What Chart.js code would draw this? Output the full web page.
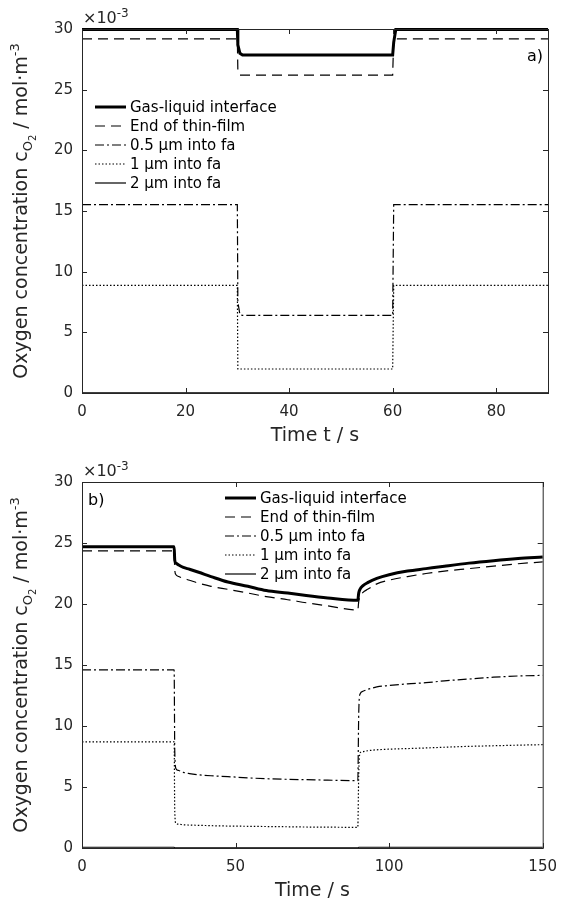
<!DOCTYPE html>
<html>
<head>
<meta charset="utf-8">
<script src="https://cdn.jsdelivr.net/npm/chart.js@4.4.1/dist/chart.umd.min.js"></script>
<style>
  body { margin: 0; background: #fff; }
  .panel { width: 567px; height: 451px; position: relative; }
  canvas { display: block; }
</style>
</head>
<body>
<div class="panel"><canvas id="chartA" width="567" height="451"></canvas></div>
<div class="panel"><canvas id="chartB" width="567" height="451"></canvas></div>
<script>
// values in units of 1e-3 mol/m3
const seriesNames = ['Gas-liquid interface', 'End of thin-film', '0.5 µm into fa', '1 µm into fa', '2 µm into fa'];

// panel a)
const timeA = [0, 30, 30.1, 30.5, 31, 60, 60.2, 60.6, 90];
const gasA  = [29.95, 29.95, 28.7, 28.0, 27.85, 27.85, 28.9, 29.95, 29.95];
const filmA = [29.18, 29.18, 26.6, 26.2, 26.2, 26.2, 29.18, 29.18, 29.18];
const halfA = [15.52, 15.52, 7.5, 6.45, 6.4, 6.4, 15.52, 15.52, 15.52];
const oneA  = [8.87, 8.87, 1.98, 1.98, 1.98, 1.98, 8.87, 8.87, 8.87];
const twoA  = [0.02, 0.02, 0.01, 0.01, 0.01, 0.01, 0.02, 0.02, 0.02];

// panel b)
const timeB = [0, 30, 30.2, 30.6, 31.5, 33, 35, 38, 42, 47.5, 54, 60, 67, 73, 80, 89.8,
               90.1, 90.5, 91.5, 93, 96, 100, 106, 112, 118, 126, 134, 142, 150];
const gasB  = [24.7, 24.7, 23.6, 23.35, 23.2, 23.0, 22.85, 22.6, 22.25, 21.8, 21.45, 21.1, 20.9, 20.7, 20.5, 20.3,
               20.9, 21.2, 21.5, 21.75, 22.1, 22.4, 22.7, 22.9, 23.1, 23.35, 23.55, 23.72, 23.85];
const filmB = [24.35, 24.35, 22.8, 22.4, 22.25, 22.1, 21.95, 21.7, 21.45, 21.2, 20.9, 20.6, 20.35, 20.1, 19.85, 19.5,
               20.2, 20.6, 20.95, 21.2, 21.65, 21.95, 22.25, 22.5, 22.7, 22.9, 23.1, 23.3, 23.45];
const halfB = [14.6, 14.6, 8.0, 6.5, 6.35, 6.2, 6.1, 6.0, 5.92, 5.85, 5.75, 5.68, 5.63, 5.6, 5.56, 5.52,
               11.0, 12.6, 12.85, 13.0, 13.2, 13.32, 13.45, 13.55, 13.7, 13.85, 14.0, 14.1, 14.15];
const oneB  = [8.7, 8.7, 3.0, 2.0, 1.95, 1.9, 1.88, 1.86, 1.83, 1.8, 1.78, 1.76, 1.74, 1.72, 1.71, 1.69,
               6.0, 7.8, 7.9, 7.97, 8.05, 8.1, 8.15, 8.2, 8.26, 8.33, 8.38, 8.43, 8.47];
const twoB  = [0.06, 0.06, 0.01, 0.01, 0.01, 0.01, 0.01, 0.01, 0.01, 0.01, 0.01, 0.01, 0.01, 0.01, 0.01, 0.01,
               0.06, 0.06, 0.06, 0.06, 0.06, 0.06, 0.06, 0.06, 0.06, 0.06, 0.06, 0.06, 0.06];

const FONT = '"DejaVu Sans", sans-serif';
const AXIS = '#262626';
const styles = [
  { borderWidth: 3, borderDash: [] },
  { borderWidth: 1.2, borderDash: [10, 6] },
  { borderWidth: 1.2, borderDash: [9, 3, 2, 3] },
  { borderWidth: 1.2, borderDash: [1.5, 2] },
  { borderWidth: 1.2, borderDash: [] }
];

function makeDatasets(times, lists, smooth) {
  return lists.map((vals, i) => ({
    label: seriesNames[i],
    data: vals.map((v, k) => ({ x: times[k], y: v })),
    borderColor: '#000',
    borderWidth: styles[i].borderWidth,
    borderDash: styles[i].borderDash,
    pointRadius: 0,
    fill: false,
    clip: 6,
    cubicInterpolationMode: smooth ? 'monotone' : 'default',
    tension: 0
  }));
}

function drawRich(ctx, parts, x, y, align) {
  let w = 0;
  parts.forEach(p => { ctx.font = p[1] + 'px ' + FONT; w += ctx.measureText(p[0]).width; });
  let cx = align === 'center' ? x - w / 2 : x;
  ctx.textAlign = 'left';
  parts.forEach(p => {
    ctx.font = p[1] + 'px ' + FONT;
    ctx.fillText(p[0], cx, y + p[2]);
    cx += ctx.measureText(p[0]).width;
  });
}

function decor(opts) {
  return {
    id: 'decor',
    afterDraw(chart) {
      const ctx = chart.ctx;
      const a = chart.chartArea;
      const xs = chart.scales.x, ys = chart.scales.y;
      ctx.save();
      // box and inward ticks
      ctx.strokeStyle = AXIS;
      ctx.lineWidth = 1;
      ctx.setLineDash([]);
      ctx.strokeRect(a.left + 0.5, a.top + 0.5, a.right - a.left, a.bottom - a.top);
      ctx.beginPath();
      xs.ticks.forEach(t => {
        const px = Math.round(xs.getPixelForValue(t.value)) + 0.5;
        ctx.moveTo(px, a.bottom); ctx.lineTo(px, a.bottom - 5);
        ctx.moveTo(px, a.top); ctx.lineTo(px, a.top + 5);
      });
      ys.ticks.forEach(t => {
        const py = Math.round(ys.getPixelForValue(t.value)) + 0.5;
        ctx.moveTo(a.left, py); ctx.lineTo(a.left + 5, py);
        ctx.moveTo(a.right, py); ctx.lineTo(a.right - 5, py);
      });
      ctx.stroke();

      ctx.fillStyle = AXIS;
      ctx.textBaseline = 'alphabetic';
      // x title
      ctx.font = '19px ' + FONT;
      ctx.textAlign = 'center';
      ctx.fillText(opts.xTitle, (a.left + a.right) / 2, a.bottom + 48);
      // y title
      ctx.save();
      ctx.translate(27, (a.top + a.bottom) / 2);
      ctx.rotate(-Math.PI / 2);
      drawRich(ctx, [['Oxygen concentration c', 19, 0], ['O', 13, 5], ['2', 10, 9], [' / mol·m', 19, 0], ['-3', 13, -8]], 0, 0, 'center');
      ctx.restore();
      // multiplier
      drawRich(ctx, [['×10', 16, 0], ['-3', 12, -6]], a.left + 1, a.top - 6, 'left');
      // panel label
      ctx.font = '16px ' + FONT;
      ctx.fillStyle = '#000';
      if (opts.tagRight) {
        ctx.textAlign = 'right';
        ctx.fillText(opts.tag, a.right - 5, a.top + 32);
      } else {
        ctx.textAlign = 'left';
        ctx.fillText(opts.tag, a.left + 6, a.top + 23);
      }
      // legend
      ctx.font = '15px ' + FONT;
      ctx.textAlign = 'left';
      ctx.textBaseline = 'middle';
      chart.data.datasets.forEach((ds, i) => {
        const y = opts.legY + i * 19;
        ctx.beginPath();
        ctx.lineWidth = ds.borderWidth;
        ctx.setLineDash(ds.borderDash);
        ctx.strokeStyle = '#000';
        ctx.moveTo(opts.legX, y); ctx.lineTo(opts.legX + 31, y);
        ctx.stroke();
        ctx.setLineDash([]);
        ctx.fillStyle = '#000';
        ctx.fillText(ds.label, opts.legX + 35, y + 1);
      });
      ctx.restore();
    }
  };
}

function makeChart(id, times, lists, xMax, xStep, pad, xHeight, smooth, opts) {
  return new Chart(document.getElementById(id), {
    type: 'line',
    data: { datasets: makeDatasets(times, lists, smooth) },
    options: {
      responsive: false,
      animation: false,
      devicePixelRatio: 1,
      layout: { padding: pad },
      plugins: { legend: { display: false }, tooltip: { enabled: false } },
      scales: {
        x: {
          type: 'linear', min: 0, max: xMax,
          ticks: { stepSize: xStep, color: AXIS, font: { family: FONT, size: 15 }, padding: 10, maxRotation: 0 },
          grid: { display: false, drawTicks: false },
          border: { display: false },
          afterBuildTicks: s => { s.ticks = s.ticks.filter(t => t.value % xStep === 0); },
          afterFit: s => { s.height = xHeight; }
        },
        y: {
          min: 0, max: 30,
          ticks: { stepSize: 5, color: AXIS, font: { family: FONT, size: 15 }, padding: 9 },
          grid: { display: false, drawTicks: false },
          border: { display: false },
          afterFit: s => { s.width = 82; }
        }
      }
    },
    plugins: [decor(opts)]
  });
}

makeChart('chartA', timeA, [gasA, filmA, halfA, oneA, twoA], 90, 20,
  { left: 0, top: 29, right: 19, bottom: 0 }, 58, false,
  { xTitle: 'Time t / s', tag: 'a)', tagRight: true, legX: 95, legY: 107 });

makeChart('chartB', timeB, [gasB, filmB, halfB, oneB, twoB], 150, 50,
  { left: 0, top: 31, right: 19, bottom: 0 }, 54, true,
  { xTitle: 'Time / s', tag: 'b)', tagRight: false, legX: 225, legY: 47 });
</script>
</body>
</html>
